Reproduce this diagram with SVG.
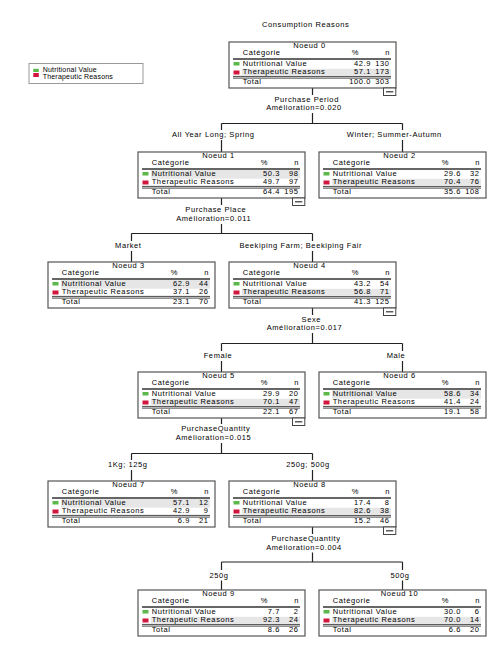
<svg xmlns="http://www.w3.org/2000/svg" width="494" height="661" viewBox="0 0 494 661">
<style>
text{font-family:"Liberation Sans",Arial,sans-serif;font-size:7.5px;letter-spacing:0.6px;fill:#000}
.m{text-anchor:middle}
.e{text-anchor:end}
.lg{font-size:7px;letter-spacing:0.2px}
.box{fill:#fff;stroke:#555;stroke-width:1.2}
.hl{stroke:#333;stroke-width:1.3}
.dl{stroke:#333;stroke-width:0.9}
.sh{fill:#e6e6e6}
.g{fill:#5cb84a}
.r{fill:#d2173f}
.btn{fill:#fff;stroke:#444;stroke-width:1}
.bl{stroke:#333;stroke-width:1.2}
.c{fill:none;stroke:#222;stroke-width:1.2}
</style>
<defs>
<g id="frame">
<rect class="box" x="0" y="0" width="167" height="46"/>
<text x="13.7" y="13.3">Catégorie</text>
<text class="e" x="130" y="13.3">%</text>
<text class="e" x="161" y="13.3">n</text>
<line class="hl" x1="4" y1="17" x2="162" y2="17"/>
<rect class="g" x="4.5" y="20" width="6" height="3.5"/>
<rect class="r" x="4.5" y="28.5" width="6" height="4"/>
<line class="dl" x1="4" y1="34.4" x2="162" y2="34.4"/>
<line class="dl" x1="4" y1="36.1" x2="162" y2="36.1"/>
<text x="13.7" y="42">Total</text>
</g>
<rect id="sh1" class="sh" x="13" y="18" width="149" height="8.7"/>
<rect id="sh2" class="sh" x="13" y="26.8" width="149" height="7"/>
<g id="btn">
<rect class="btn" x="154.5" y="46" width="12.3" height="7.5"/>
<line class="bl" x1="157" y1="49.8" x2="164.3" y2="49.8"/>
</g>
</defs>

<text class="m" x="305.7" y="27">Consumption Reasons</text>

<g id="legend">
<rect x="29" y="63.5" width="114" height="20" fill="#fff" stroke="#999" stroke-width="1"/>
<rect class="g" x="33.3" y="68.8" width="5.5" height="3.2"/>
<rect class="r" x="33.3" y="73" width="5.5" height="4"/>
<text class="lg" x="42.7" y="72.3">Nutritional Value</text>
<text class="lg" x="42.7" y="79.3">Therapeutic Reasons</text>
</g>

<g id="connectors">
<path class="c" d="M312.5,88V95M312.5,113V123.5M221.5,123.5H402.5M221.5,123.5V130M402.5,123.5V130M221.5,140V152M402.5,140V152"/>
<path class="c" d="M221.5,197.5V205M221.5,224V233.5M131.5,233.5H312.5M131.5,233.5V241M312.5,233.5V241M131.5,251V262M312.5,251V262"/>
<path class="c" d="M312.5,307.5V315M312.5,333V343.5M221.5,343.5H402.5M221.5,343.5V351M402.5,343.5V351M221.5,361V372M402.5,361V372"/>
<path class="c" d="M221.5,417V424M221.5,443V453.5M131.5,453.5H312.5M131.5,453.5V460M312.5,453.5V460M131.5,470V481M312.5,470V481"/>
<path class="c" d="M312.5,527V534M312.5,552.5V562M221.5,562H402.5M221.5,562V570M402.5,562V570M221.5,580.5V590M402.5,580.5V590"/>
<text class="m" x="306.7" y="101.5">Purchase Period</text>
<text class="m" x="304" y="110">Amélioration=0.020</text>
<text class="m" x="213.3" y="137">All Year Long; Spring</text>
<text class="m" x="394.3" y="137">Winter; Summer-Autumn</text>
<text class="m" x="215.8" y="212">Purchase Place</text>
<text class="m" x="213.7" y="221">Amélioration=0.011</text>
<text class="m" x="128.3" y="248">Market</text>
<text class="m" x="300.8" y="248">Beekiping Farm; Beekiping Fair</text>
<text class="m" x="311.3" y="321.5">Sexe</text>
<text class="m" x="304.5" y="330">Amélioration=0.017</text>
<text class="m" x="218" y="358">Female</text>
<text class="m" x="396" y="358">Male</text>
<text class="m" x="215.8" y="431">PurchaseQuantity</text>
<text class="m" x="213.5" y="440">Amélioration=0.015</text>
<text class="m" x="127.8" y="467">1Kg; 125g</text>
<text class="m" x="308" y="467">250g; 500g</text>
<text class="m" x="306" y="541">PurchaseQuantity</text>
<text class="m" x="304" y="549.5">Amélioration=0.004</text>
<text class="m" x="219" y="577.5">250g</text>
<text class="m" x="400" y="577.5">500g</text>
</g>

<g id="node0" transform="translate(229,42)">
<use href="#frame"/><use href="#sh2"/><use href="#btn"/>
<text class="m" x="80.5" y="5.5">Noeud 0</text>
<text x="13.7" y="23.5">Nutritional Value</text><text class="e" x="142" y="23.5">42.9</text><text class="e" x="160.5" y="23.5">130</text>
<text x="13.7" y="32">Therapeutic Reasons</text><text class="e" x="142" y="32">57.1</text><text class="e" x="160.5" y="32">173</text>
<text class="e" x="142" y="42">100.0</text><text class="e" x="160.5" y="42">303</text>
</g>

<g id="node1" transform="translate(138,152)">
<use href="#frame"/><use href="#sh1"/><use href="#btn"/>
<text class="m" x="80.5" y="5.5">Noeud 1</text>
<text x="13.7" y="23.5">Nutritional Value</text><text class="e" x="142" y="23.5">50.3</text><text class="e" x="160.5" y="23.5">98</text>
<text x="13.7" y="32">Therapeutic Reasons</text><text class="e" x="142" y="32">49.7</text><text class="e" x="160.5" y="32">97</text>
<text class="e" x="142" y="42">64.4</text><text class="e" x="160.5" y="42">195</text>
</g>

<g id="node2" transform="translate(319,152)">
<use href="#frame"/><use href="#sh2"/>
<text class="m" x="80.5" y="5.5">Noeud 2</text>
<text x="13.7" y="23.5">Nutritional Value</text><text class="e" x="142" y="23.5">29.6</text><text class="e" x="160.5" y="23.5">32</text>
<text x="13.7" y="32">Therapeutic Reasons</text><text class="e" x="142" y="32">70.4</text><text class="e" x="160.5" y="32">76</text>
<text class="e" x="142" y="42">35.6</text><text class="e" x="160.5" y="42">108</text>
</g>

<g id="node3" transform="translate(48,262)">
<use href="#frame"/><use href="#sh1"/>
<text class="m" x="80.5" y="5.5">Noeud 3</text>
<text x="13.7" y="23.5">Nutritional Value</text><text class="e" x="142" y="23.5">62.9</text><text class="e" x="160.5" y="23.5">44</text>
<text x="13.7" y="32">Therapeutic Reasons</text><text class="e" x="142" y="32">37.1</text><text class="e" x="160.5" y="32">26</text>
<text class="e" x="142" y="42">23.1</text><text class="e" x="160.5" y="42">70</text>
</g>

<g id="node4" transform="translate(229,262)">
<use href="#frame"/><use href="#sh2"/><use href="#btn"/>
<text class="m" x="80.5" y="5.5">Noeud 4</text>
<text x="13.7" y="23.5">Nutritional Value</text><text class="e" x="142" y="23.5">43.2</text><text class="e" x="160.5" y="23.5">54</text>
<text x="13.7" y="32">Therapeutic Reasons</text><text class="e" x="142" y="32">56.8</text><text class="e" x="160.5" y="32">71</text>
<text class="e" x="142" y="42">41.3</text><text class="e" x="160.5" y="42">125</text>
</g>

<g id="node5" transform="translate(138,372)">
<use href="#frame"/><use href="#sh2"/><use href="#btn"/>
<text class="m" x="80.5" y="5.5">Noeud 5</text>
<text x="13.7" y="23.5">Nutritional Value</text><text class="e" x="142" y="23.5">29.9</text><text class="e" x="160.5" y="23.5">20</text>
<text x="13.7" y="32">Therapeutic Reasons</text><text class="e" x="142" y="32">70.1</text><text class="e" x="160.5" y="32">47</text>
<text class="e" x="142" y="42">22.1</text><text class="e" x="160.5" y="42">67</text>
</g>

<g id="node6" transform="translate(319,372)">
<use href="#frame"/><use href="#sh1"/>
<text class="m" x="80.5" y="5.5">Noeud 6</text>
<text x="13.7" y="23.5">Nutritional Value</text><text class="e" x="142" y="23.5">58.6</text><text class="e" x="160.5" y="23.5">34</text>
<text x="13.7" y="32">Therapeutic Reasons</text><text class="e" x="142" y="32">41.4</text><text class="e" x="160.5" y="32">24</text>
<text class="e" x="142" y="42">19.1</text><text class="e" x="160.5" y="42">58</text>
</g>

<g id="node7" transform="translate(48,481)">
<use href="#frame"/><use href="#sh1"/>
<text class="m" x="80.5" y="5.5">Noeud 7</text>
<text x="13.7" y="23.5">Nutritional Value</text><text class="e" x="142" y="23.5">57.1</text><text class="e" x="160.5" y="23.5">12</text>
<text x="13.7" y="32">Therapeutic Reasons</text><text class="e" x="142" y="32">42.9</text><text class="e" x="160.5" y="32">9</text>
<text class="e" x="142" y="42">6.9</text><text class="e" x="160.5" y="42">21</text>
</g>

<g id="node8" transform="translate(229,481)">
<use href="#frame"/><use href="#sh2"/><use href="#btn"/>
<text class="m" x="80.5" y="5.5">Noeud 8</text>
<text x="13.7" y="23.5">Nutritional Value</text><text class="e" x="142" y="23.5">17.4</text><text class="e" x="160.5" y="23.5">8</text>
<text x="13.7" y="32">Therapeutic Reasons</text><text class="e" x="142" y="32">82.6</text><text class="e" x="160.5" y="32">38</text>
<text class="e" x="142" y="42">15.2</text><text class="e" x="160.5" y="42">46</text>
</g>

<g id="node9" transform="translate(138,590)">
<use href="#frame"/><use href="#sh2"/>
<text class="m" x="80.5" y="5.5">Noeud 9</text>
<text x="13.7" y="23.5">Nutritional Value</text><text class="e" x="142" y="23.5">7.7</text><text class="e" x="160.5" y="23.5">2</text>
<text x="13.7" y="32">Therapeutic Reasons</text><text class="e" x="142" y="32">92.3</text><text class="e" x="160.5" y="32">24</text>
<text class="e" x="142" y="42">8.6</text><text class="e" x="160.5" y="42">26</text>
</g>

<g id="node10" transform="translate(319,590)">
<use href="#frame"/><use href="#sh2"/>
<text class="m" x="80.5" y="5.5">Noeud 10</text>
<text x="13.7" y="23.5">Nutritional Value</text><text class="e" x="142" y="23.5">30.0</text><text class="e" x="160.5" y="23.5">6</text>
<text x="13.7" y="32">Therapeutic Reasons</text><text class="e" x="142" y="32">70.0</text><text class="e" x="160.5" y="32">14</text>
<text class="e" x="142" y="42">6.6</text><text class="e" x="160.5" y="42">20</text>
</g>
</svg>
